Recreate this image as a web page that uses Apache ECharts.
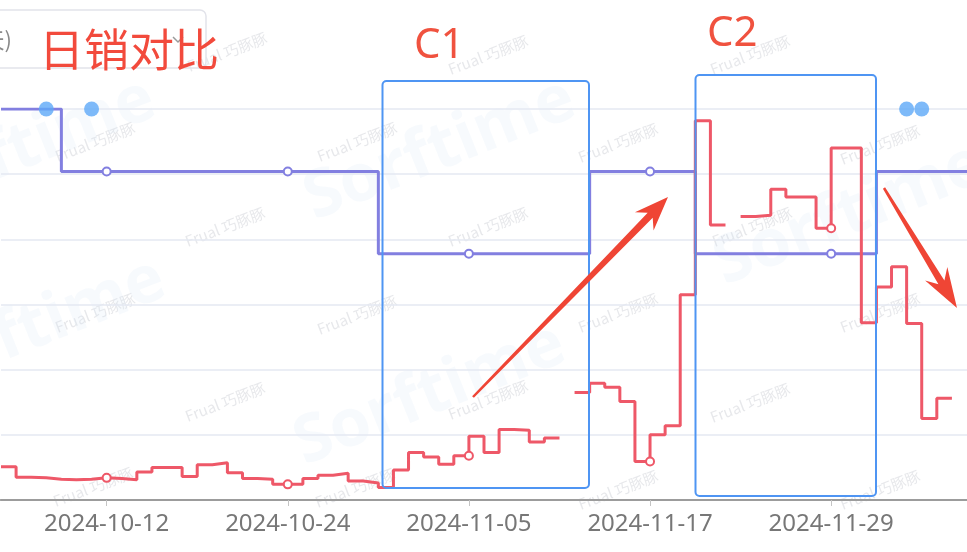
<!DOCTYPE html>
<html>
<head>
<meta charset="utf-8">
<title>日销对比</title>
<script src="https://cdn.jsdelivr.net/npm/echarts@6/dist/echarts.min.js"></script>
<style>
  html, body { margin: 0; padding: 0; background: #fff; }
  #chart { width: 967px; height: 552px; }
</style>
</head>
<body>
<div id="chart"></div>
<script>
// 日期 2024-10-05 ~ 2024-12-08
const dates = [
  '2024-10-05', '2024-10-06', '2024-10-07', '2024-10-08', '2024-10-09', '2024-10-10', '2024-10-11',
  '2024-10-12', '2024-10-13', '2024-10-14', '2024-10-15', '2024-10-16', '2024-10-17', '2024-10-18',
  '2024-10-19', '2024-10-20', '2024-10-21', '2024-10-22', '2024-10-23', '2024-10-24', '2024-10-25',
  '2024-10-26', '2024-10-27', '2024-10-28', '2024-10-29', '2024-10-30', '2024-10-31', '2024-11-01',
  '2024-11-02', '2024-11-03', '2024-11-04', '2024-11-05', '2024-11-06', '2024-11-07', '2024-11-08',
  '2024-11-09', '2024-11-10', '2024-11-11', '2024-11-12', '2024-11-13', '2024-11-14', '2024-11-15',
  '2024-11-16', '2024-11-17', '2024-11-18', '2024-11-19', '2024-11-20', '2024-11-21', '2024-11-22',
  '2024-11-23', '2024-11-24', '2024-11-25', '2024-11-26', '2024-11-27', '2024-11-28', '2024-11-29',
  '2024-11-30', '2024-12-01', '2024-12-02', '2024-12-03', '2024-12-04', '2024-12-05', '2024-12-06',
  '2024-12-07', '2024-12-08'
]

// 日销量
const sales = [
  51, 51, 35, 34, 32, 31, 32, 34, 33, 31,
  43, 50, 50, 36, 54, 57, 42, 33, 32, 24,
  24, 33, 38, 41, 29, 26, 19, 46, 73, 66,
  55, 68, 98, 73, 108, 107, 89, 95, null, 165,
  179, 173, 151, 59, 100, 114, 315, 582, 422, null,
  435, 437, 477, 465, 465, 417, 540, 540, 272, 327,
  358, 271, 125, 156, null
]

// 价格
const price = [
  30, 30, 30, 30, 30, 25.2, 25.2, 25.2, 25.2, 25.2,
  25.2, 25.2, 25.2, 25.2, 25.2, 25.2, 25.2, 25.2, 25.2, 25.2,
  25.2, 25.2, 25.2, 25.2, 25.2, 25.2, 18.9, 18.9, 18.9, 18.9,
  18.9, 18.9, 18.9, 18.9, 18.9, 18.9, 18.9, 18.9, 18.9, 18.9,
  25.2, 25.2, 25.2, 25.2, 25.2, 25.2, 25.2, 18.9, 18.9, 18.9,
  18.9, 18.9, 18.9, 18.9, 18.9, 18.9, 18.9, 18.9, 18.9, 25.2,
  25.2, 25.2, 25.2, 25.2, 25.2
]

// 活动节点
const eventDays = ['2024-10-08', '2024-10-11', '2024-12-04', '2024-12-05']

// 水印
const markRowsA = [[95, 142], [357, 142], [618, 143], [880, 145], [95, 313], [357, 315], [618, 313], [880, 313], [93, 487], [355, 488], [618, 490], [880, 490]]
const markRowsB = [[227, 52], [488, 55], [750, 55], [225, 227], [488, 227], [752, 227], [225, 402], [488, 400], [750, 403]]

const firstLabel = 7
const labelStep = 12
const showLabel = (idx) => idx >= firstLabel && (idx - firstLabel) % labelStep === 0

function arrow(x0, y0, x1, y1, headLen, headW, w0, w1) {
  const dx = x1 - x0
  const dy = y1 - y0
  const len = Math.hypot(dx, dy)
  const ux = dx / len, uy = dy / len
  const nx = -uy, ny = ux
  const bx = x1 - ux * headLen, by = y1 - uy * headLen
  const nb = x1 - ux * headLen * 0.75, mb = y1 - uy * headLen * 0.75
  return [
    [x0 + nx * w0 / 2, y0 + ny * w0 / 2],
    [nb + nx * w1 / 2, mb + ny * w1 / 2],
    [bx + nx * headW / 2, by + ny * headW / 2],
    [x1, y1],
    [bx - nx * headW / 2, by - ny * headW / 2],
    [nb - nx * w1 / 2, mb - ny * w1 / 2],
    [x0 - nx * w0 / 2, y0 - ny * w0 / 2]
  ]
}

const graphics = []
markRowsA.concat(markRowsB).forEach(p => {
  graphics.push({
    type: 'text', x: p[0], y: p[1], rotation: 0.36, z: 0, silent: true,
    style: { text: 'Frual 巧豚豚', fill: 'rgba(175,178,190,0.3)', font: '15px "Noto Sans CJK SC"', textAlign: 'center', textVerticalAlign: 'middle' }
  })
})
;[[440, 150], [430, 395], [850, 215], [20, 150], [30, 330]].forEach(p => {
  graphics.push({
    type: 'text', x: p[0], y: p[1], rotation: 0.38, z: 0, silent: true,
    style: { text: 'Sorftime', fill: 'rgba(214,228,244,0.2)', font: 'bold 66px "Open Sans"', textAlign: 'center', textVerticalAlign: 'middle' }
  })
})
graphics.push(
  { type: 'rect', z: 100, shape: { x: -12, y: 10, width: 218, height: 58, r: 6 }, style: { fill: 'none', stroke: '#e2e3ea', lineWidth: 1.5 } },
  { type: 'text', z: 100, x: 12, y: 40, style: { text: '天)', fill: '#8a8a8a', font: '22px "Noto Sans CJK SC"', textAlign: 'right', textVerticalAlign: 'middle' } },
  { type: 'polyline', z: 100, shape: { points: [[173, 37], [178, 42], [183, 37]] }, style: { stroke: '#9a9a9a', lineWidth: 1.5, fill: 'none' } },
  { type: 'text', z: 101, x: 39, y: 50, style: { text: '日销对比', fill: '#f24a3c', font: '45px "Noto Sans CJK SC"', textVerticalAlign: 'middle' } },
  { type: 'text', z: 101, x: 414, y: 46, style: { text: 'C1', fill: '#f0523f', font: '42px "Noto Sans"', textVerticalAlign: 'middle' } },
  { type: 'text', z: 101, x: 707, y: 34, style: { text: 'C2', fill: '#f0523f', font: '42px "Noto Sans"', textVerticalAlign: 'middle' } },
  { type: 'rect', z: 100, shape: { x: 382.5, y: 81, width: 206.5, height: 407, r: 4 }, style: { fill: 'none', stroke: '#4f95f3', lineWidth: 2 } },
  { type: 'rect', z: 100, shape: { x: 695.5, y: 75, width: 180.5, height: 421, r: 4 }, style: { fill: 'none', stroke: '#4f95f3', lineWidth: 2 } },
  { type: 'polygon', z: 101, shape: { points: arrow(473, 397, 668, 197, 34, 26, 2.5, 7) }, style: { fill: '#ef4535' } },
  { type: 'polygon', z: 101, shape: { points: arrow(884, 188, 957, 308, 40, 26, 2.5, 7) }, style: { fill: '#ef4535' } }
)

const chart = echarts.init(document.getElementById('chart'))
chart.setOption({
  animation: false,
  backgroundColor: '#fff',
  grid: {
    left: 1,
    right: 0,
    top: 109,
    bottom: 52
  },
  xAxis: [
    {
      type: 'category',
      boundaryGap: false,
      data: dates,
      axisLine: {
        lineStyle: { color: '#a3a3a3', width: 2 }
      },
      axisTick: {
        interval: (idx) => showLabel(idx),
        length: 6,
        lineStyle: { color: '#c4c4c4' }
      },
      axisLabel: {
        interval: (idx) => showLabel(idx),
        color: '#777',
        fontSize: 24,
        fontFamily: 'Noto Sans',
        margin: 12
      },
      splitLine: { show: false }
    },
    {
      type: 'category',
      position: 'top',
      boundaryGap: false,
      data: dates,
      axisLine: {
        lineStyle: { color: '#9c9c9c', width: 2 }
      },
      axisTick: { show: false },
      axisLabel: { show: false }
    }
  ],
  yAxis: [
    {
      type: 'value',
      min: 0,
      max: 600,
      interval: 100,
      axisLabel: { show: false },
      axisLine: { show: false },
      axisTick: { show: false },
      splitLine: {
        lineStyle: { color: '#e5e8f2', width: 1.5 }
      }
    },
    {
      type: 'value',
      min: 0,
      max: 30,
      show: false,
      splitLine: { show: false }
    }
  ],
  series: [
    {
      name: '价格',
      type: 'line',
      step: 'start',
      yAxisIndex: 1,
      data: price,
      showAllSymbol: true,
      symbol: (val, params) => showLabel(params.dataIndex) ? 'emptyCircle' : 'none',
      symbolSize: 8,
      itemStyle: { color: '#827fe0', borderWidth: 2 },
      lineStyle: { color: '#827fe0', width: 3 },
      z: 3
    },
    {
      name: '日销量',
      type: 'line',
      step: 'start',
      yAxisIndex: 0,
      data: sales,
      connectNulls: false,
      showAllSymbol: true,
      symbol: (val, params) => showLabel(params.dataIndex) ? 'emptyCircle' : 'none',
      symbolSize: 8,
      itemStyle: { color: '#ee5868', borderWidth: 2 },
      lineStyle: { color: '#ee5868', width: 3 },
      z: 4
    },
    {
      name: '活动',
      type: 'scatter',
      yAxisIndex: 1,
      data: eventDays.map(d => [d, 30]),
      symbolSize: 15,
      itemStyle: { color: '#5ea9f7' },
      z: 5
    }
  ],
  graphic: graphics
})
</script>
</body>
</html>
